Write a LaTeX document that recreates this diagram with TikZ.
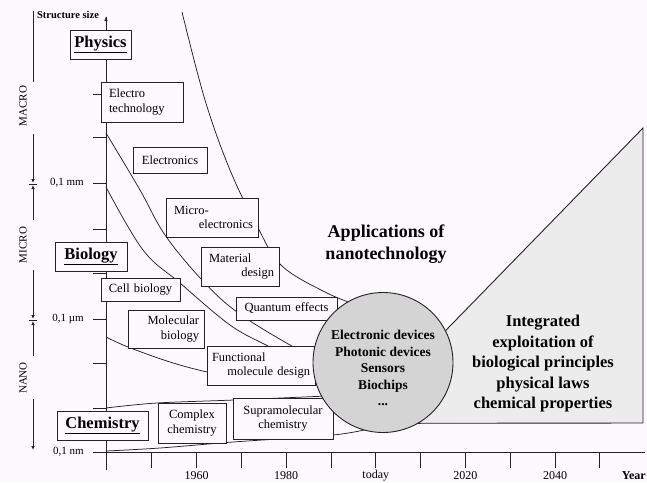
\documentclass[tikz,border=0pt]{standalone}
\usepackage{fontspec}
\setmainfont{Liberation Serif}
\usetikzlibrary{arrows.meta,positioning}
\definecolor{paper}{RGB}{252,250,252}
\definecolor{ink}{RGB}{35,35,35}
\definecolor{discgray}{RGB}{212,212,212}
\definecolor{wedgegray}{RGB}{236,236,236}
\tikzset{
  field/.style={draw=ink, line width=0.9pt, fill=paper, inner xsep=5pt, inner ysep=0pt,
    align=left, font=\fontsize{12.5}{14.5}\selectfont},
  science/.style={draw=ink, line width=0.9pt, fill=paper, inner sep=0pt, align=center,
    minimum height=29pt, font=\bfseries\fontsize{16.5}{18}\selectfont},
  trend/.style={draw=ink, line width=0.75pt},
  sizeaxis/.style={draw=ink, line width=0.8pt},
  sizerange/.style={draw=ink, line width=0.8pt},
  rangetip/.style={-{Latex[length=4pt,width=3.5pt]}},
  yearlabel/.style={font=\fontsize{12}{12}\selectfont, inner sep=0pt}
}

\begin{document}
\begin{tikzpicture}[x=1pt,y=-1pt]
  % Page
  \fill[paper] (0,0) rectangle (647,482);
  \useasboundingbox (0,0) rectangle (647,482);
  % Wedge of the future
  \node[circle, minimum size=140pt, inner sep=0pt] (apps) at (383,362.5) {};
  \fill[wedgegray] (apps.center) -- (apps.27) -- (643,128) -- (643,423) -- (apps.-60) -- cycle;
  \draw[trend, line width=0.9pt] (apps.27) -- (643,128) -- (643,423) -- (apps.-60);
  % Axes
  \draw[sizeaxis] (106,470) -- (106,17);
  \draw[sizeaxis, -{Latex[length=5pt,width=3.5pt]}] (106,30) -- (106,16);
  \draw[sizeaxis] (93,452) -- (645,452);
  \foreach \y in {50,94,137,183,229,273,319,363,408,452}
    \draw[sizeaxis] (93,\y) -- (106,\y);
  \foreach \k in {1,...,11}
    \draw[sizeaxis] ({107+44.8*\k},452) -- ++(0,16);
  % Size ranges
  \draw[sizerange] (33,11) -- (33,82);
  \draw[sizerange, rangetip] (33,134) -- (33,183);
  \draw[sizerange, rangetip] (33,220) -- (33,185);
  \draw[sizerange, rangetip] (33,270) -- (33,319);
  \draw[sizerange, rangetip] (33,356) -- (33,321);
  \draw[sizerange, rangetip] (33,399) -- (33,450);
  \draw[sizerange] (29,184) -- (37,184);
  \draw[sizerange] (29,320) -- (37,320);
  \node[rotate=90, font=\fontsize{11}{11}\selectfont] (macro) at (23,106) {MACRO};
  \node[rotate=90, font=\fontsize{11}{11}\selectfont] (micro) at (23,245) {MICRO};
  \node[rotate=90, font=\fontsize{11}{11}\selectfont] (nano) at (23,378) {NANO};
  % Scale labels
  \node[anchor=east, inner sep=0pt, font=\fontsize{11}{11}\selectfont] (mm) at (84,183) {0,1 mm};
  \node[anchor=east, inner sep=0pt, font=\fontsize{11}{11}\selectfont] (um) at (84,319) {0,1 µm};
  \node[anchor=east, inner sep=0pt, font=\fontsize{11}{11}\selectfont] (nm) at (84,452) {0,1 nm};
  \node[anchor=south, inner sep=0pt, font=\bfseries\fontsize{10.5}{11}\selectfont] (size) at (68,19) {Structure size};
  \node[yearlabel] (y1960) at (196.6,476) {1960};
  \node[yearlabel] (y1980) at (286.2,476) {1980};
  \node[yearlabel] (ytoday) at (375.8,476) {today};
  \node[yearlabel] (y2020) at (465.4,476) {2020};
  \node[yearlabel] (y2040) at (555,476) {2040};
  \node[yearlabel, anchor=east, font=\bfseries\fontsize{12}{12}\selectfont] (year) at (646,476) {Year};
  % Trend curves
  \draw[trend] plot[smooth, tension=0.6] coordinates {(182,12) (205,100) (230,170) (258,228) (282,266) (327,293) (360,306)};
  \draw[trend] plot[smooth, tension=0.6] coordinates {(106,133) (140,190) (165,235) (202,280) (237,312) (290,345) (330,365)};
  \draw[trend] plot[smooth, tension=0.6] coordinates {(106,187) (143,250) (180,283) (230,325) (268,346) (300,362)};
  \draw[trend] plot[smooth, tension=0.6] coordinates {(106,337) (128,347) (170,362) (207,372) (240,378)};
  \draw[trend] plot[smooth, tension=0.6] coordinates {(106,408) (157,403) (234,400) (350,395)};
  \draw[trend] plot[smooth, tension=0.6] coordinates {(106,451) (160,448) (233,442) (333,435) (372,428)};
  % Sciences
  \node[science, minimum width=61pt] (physics) at (100.5,44.5) {\underline{Physics}};
  \node[science, minimum width=72pt] (biology) at (91,256.5) {\underline{Biology}};
  \node[science, minimum width=91pt] (chemistry) at (102.5,425.5) {\underline{Chemistry}};
  % Fields
  \node[field, text width=72pt, minimum height=40pt] (electro) at (142,102) {\hspace*{3pt}Electro\\\hspace*{3pt}technology};
  \node[field, text width=64pt, minimum height=26pt, align=center] (electronics) at (170,160) {Electronics};
  \node[field, text width=82pt, minimum height=39pt] (microel) at (212,217.5) {\hspace*{3pt}Micro-\\\hspace*{\fill}electronics};
  \node[field, text width=68pt, minimum height=39pt] (material) at (240,266.5) {\hspace*{3pt}Material\\\hspace*{\fill}design};
  \node[field, text width=91pt, minimum height=23pt, align=center] (quantum) at (286.5,308.5) {Quantum effects};
  \node[field, text width=69pt, minimum height=23pt, align=center] (cellbio) at (140.5,289.5) {Cell biology};
  \node[field, text width=66pt, minimum height=38pt] (molbio) at (166,329) {\hspace*{\fill}Molecular\hspace*{\fill}\\\hspace*{\fill}biology};
  \node[field, text width=98pt, minimum height=39pt] (functional) at (261,365.5) {Functional\\\hspace*{\fill}molecule design};
  \node[field, text width=58pt, minimum height=40pt, align=center] (complex) at (192,423) {Complex\\chemistry};
  \node[field, text width=90pt, minimum height=41pt, align=center] (supra) at (283,418.5) {Supramolecular\\chemistry};
  % Applications
  \node[circle, draw=ink, line width=0.9pt, fill=discgray, minimum size=140pt, inner sep=0pt] (disc) at (apps.center) {};
  \node[align=center, font=\bfseries\fontsize{13.5}{16.5}\selectfont] (devices) at (383,368)
    {Electronic devices\\Photonic devices\\Sensors\\Biochips\\...};
  \node[align=center, font=\bfseries\fontsize{18}{22}\selectfont] (applications) at (386,244) {Applications of\\nanotechnology};
  \node[align=center, font=\bfseries\fontsize{16.5}{20.5}\selectfont] (integrated) at (543,364)
    {Integrated\\exploitation of\\biological principles\\physical laws\\chemical properties};
\end{tikzpicture}
\end{document}
